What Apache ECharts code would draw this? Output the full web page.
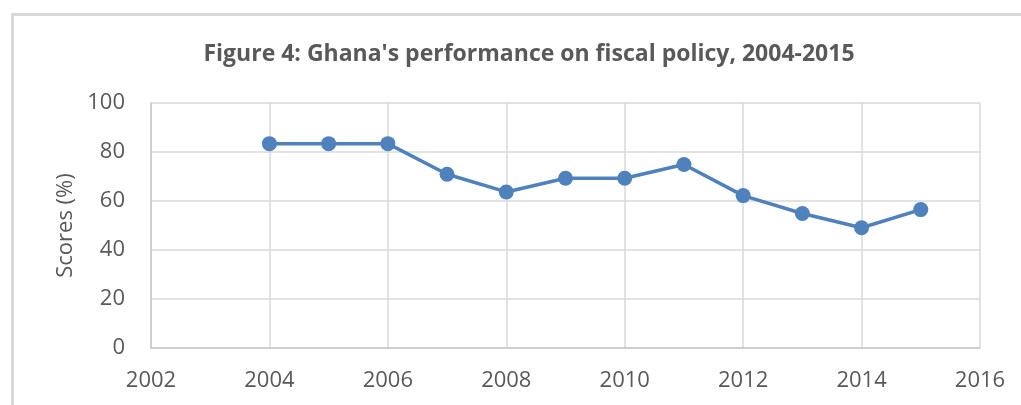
<!DOCTYPE html>
<html><head><meta charset="utf-8">
<script src="https://cdn.jsdelivr.net/npm/echarts@6/dist/echarts.min.js"></script>
<style>
html,body{margin:0;padding:0;background:#fff;overflow:hidden}
#frame{position:absolute;left:11px;top:13px;width:1100px;height:500px;border:3px solid #d9d9d9;box-sizing:border-box}
#c{position:absolute;left:0;top:0;width:1021px;height:405px}
</style></head>
<body>
<div id="frame"></div>
<div id="c"></div>
<script>
const years = [2004, 2005, 2006, 2007, 2008, 2009, 2010, 2011, 2012, 2013, 2014, 2015];
const scores = [83.4, 83.4, 83.4, 70.9, 63.7, 69.3, 69.3, 74.9, 62.2, 54.9, 49.1, 56.5];
const titleText = "Figure 4: Ghana's performance on fiscal policy, 2004-2015";
const yAxisName = "Scores (%)";

const chart = echarts.init(document.getElementById('c'), null, {renderer:'canvas'});
const font = "'Open Sans', 'Liberation Sans', sans-serif";
chart.setOption({
  animation:false,
  title:{text:titleText,left:524,top:38,textAlign:'center',
    textStyle:{fontFamily:font,fontWeight:'bold',fontSize:23,color:'#595959'}},
  grid:{left:151,right:41,top:103,bottom:57,containLabel:false},
  xAxis:{type:'value',min:2002,max:2016,interval:2,
    axisLine:{show:true,lineStyle:{color:'#c8c8c8',width:1.5}},
    axisTick:{show:false},
    splitLine:{show:true,lineStyle:{color:'#d9d9d9',width:1.5}},
    axisLabel:{margin:22,fontFamily:font,fontSize:22,color:'#595959',
      formatter:v=>String(v)}},
  yAxis:{type:'value',min:0,max:100,interval:20,
    name:yAxisName,nameLocation:'middle',nameGap:74,
    nameTextStyle:{fontFamily:font,fontSize:22,color:'#595959'},
    axisLine:{show:true,lineStyle:{color:'#c8c8c8',width:1.5}},
    axisTick:{show:false},
    splitLine:{show:true,lineStyle:{color:'#d9d9d9',width:1.5}},
    axisLabel:{margin:26,fontFamily:font,fontSize:22,color:'#595959'}},
  series:[{type:'line',data:years.map((y,i)=>[y,scores[i]]),
    symbol:'circle',symbolSize:15,
    lineStyle:{color:'#4f81bd',width:3.5},
    itemStyle:{color:'#4f81bd'}}]
});
</script>
</body></html>
